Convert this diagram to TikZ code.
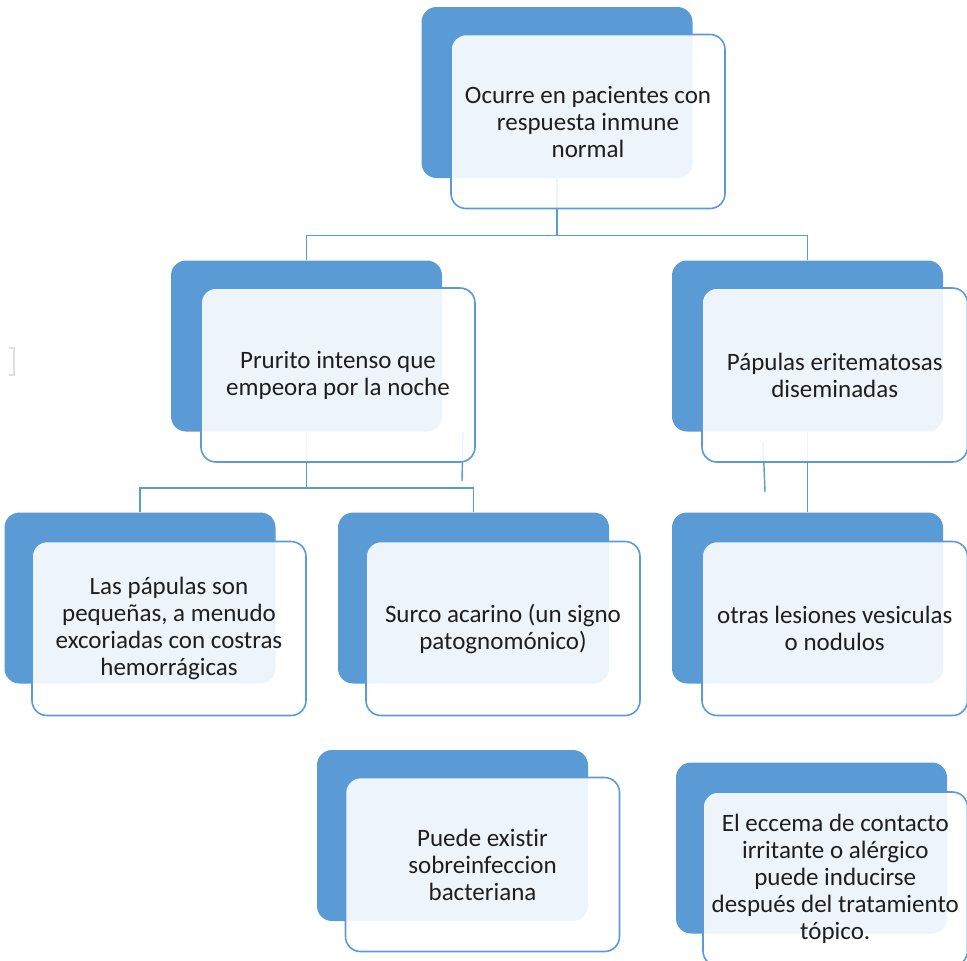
\documentclass[tikz,border=0pt]{standalone}
\usepackage{fontspec}
\setmainfont[Ligatures=NoCommon]{Carlito}
\usepackage{tikz}
\definecolor{boxblue}{HTML}{5B9BD5}
\definecolor{txtgray}{HTML}{1E1E1E}

\begin{document}
\begin{tikzpicture}[x=0.5pt,y=-0.5pt,
  back/.style={fill=boxblue,rounded corners=7.5pt,minimum width=135.5pt,minimum height=85.5pt,inner sep=0pt},
  front/.style={draw=boxblue,line width=0.8pt,fill=white,fill opacity=0.9,text opacity=1,
    rounded corners=7.5pt,minimum width=137pt,minimum height=87pt,inner sep=0pt,
    align=center,text=txtgray,font=\fontsize{12.5}{13.5}\selectfont},
  conn/.style={draw=boxblue,line width=0.7pt}]
\useasboundingbox (0,0) rectangle (967,960);
% back boxes
\node[back] (Ocb) at (557,92.5) {};
\node[back] (Prb) at (306.5,346) {};
\node[back] (Pab) at (807.5,346) {};
\node[back] (Lab) at (140,598) {};
\node[back] (Sub) at (473.5,598) {};
\node[back] (Otb) at (807.5,598) {};
\node[back] (Pub) at (452.5,835.5) {};
\node[back] (Elb) at (811.5,848) {};
% connectors
\draw[conn] (Ocb.south) -- ++(0,57) coordinate (Oj);
\draw[conn] (Prb.north) |- (Oj) -| (Pab.north);
\draw[conn] (Prb.south) -- ++(0,56) coordinate (Pj);
\draw[conn] (Lab.north) |- (Pj) -| (Sub.north);
\draw[conn] (Pab.south) -- (Otb.north);
\draw[conn] (463,432) -- (462,481);
\draw[conn] (763,442) -- (765,492);
\draw[gray!25,line width=0.6pt] (9,348) -- (14,348) -- (14,375) -- (9,375);
% front boxes
\node[front] (Oc) at (588,121.5) {Ocurre en pacientes con\\respuesta inmune\\normal};
\node[front] (Pr) at (338,375) {Prurito intenso que\\empeora por la noche};
\node[front,minimum width=132.75pt] (Pa) at (834.75,375) {Pápulas eritematosas\\diseminadas};
\node[front] (La) at (169,628.5) {Las pápulas son\\pequeñas, a menudo\\excoriadas con costras\\hemorrágicas};
\node[front] (Su) at (503,628.5) {Surco acarino (un signo\\patognomónico)};
\node[front,minimum width=132.75pt] (Ot) at (834.75,628.5) {otras lesiones vesiculas\\o nodulos};
\node[front] (Pu) at (482.5,864.5) {Puede existir\\sobreinfeccion\\bacteriana};
\node[front,minimum width=132.25pt] (El) at (835.25,879) {El eccema de contacto\\irritante o alérgico\\puede inducirse\\después del tratamiento\\tópico.};
\end{tikzpicture}
\end{document}
